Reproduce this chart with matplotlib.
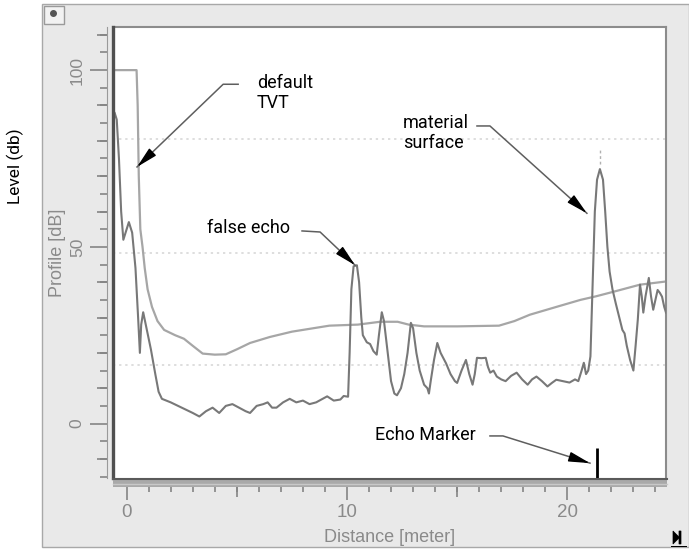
import matplotlib
matplotlib.use('Agg')
import matplotlib.pyplot as plt
import numpy as np
from matplotlib.patches import Rectangle, Polygon

# echo profile (distance in m, level in dB)
profile_x = [-0.62, -0.55, -0.45, -0.35, -0.25, -0.15, -0.05, 0.1, 0.25, 0.4, 0.52, 0.6, 0.66, 0.75,
             0.9, 1.1, 1.3, 1.45, 1.6, 2.0, 2.5, 3.0, 3.3, 3.6, 3.9, 4.2, 4.5, 4.8, 5.1, 5.4, 5.6,
             5.9, 6.2, 6.4, 6.6, 6.8, 7.1, 7.4, 7.7, 8.0, 8.3, 8.6, 8.9, 9.1, 9.4, 9.7, 9.85, 10.05,
             10.12, 10.2, 10.3, 10.45, 10.55, 10.65, 10.72, 10.9, 11.05, 11.2, 11.35, 11.45, 11.58,
             11.68, 11.85, 12.0, 12.15, 12.27, 12.45, 12.6, 12.75, 12.9, 13.0, 13.15, 13.3, 13.5,
             13.65, 13.72, 13.8, 13.95, 14.1, 14.25, 14.5, 14.7, 14.9, 15.0, 15.2, 15.4, 15.55, 15.7,
             15.8, 15.9, 16.1, 16.3, 16.4, 16.5, 16.65, 16.8, 17.0, 17.2, 17.45, 17.7, 17.95, 18.2,
             18.4, 18.6, 18.85, 19.1, 19.3, 19.5, 19.8, 20.1, 20.35, 20.5, 20.65, 20.75, 20.85, 20.95,
             21.05, 21.15, 21.25, 21.35, 21.48, 21.62, 21.72, 21.82, 21.92, 22.05, 22.2, 22.4, 22.5,
             22.6, 22.7, 22.85, 23.0, 23.1, 23.2, 23.3, 23.38, 23.45, 23.55, 23.7, 23.8, 23.9, 24.0,
             24.1, 24.2, 24.3, 24.4, 24.48]
profile_y = [87, 88, 86, 75, 60, 52, 54, 57, 54, 44, 30, 20, 28, 31.5,
             27, 21, 14, 9, 7, 6, 4.5, 3, 2, 3.5, 4.5, 3, 5, 5.5, 4.5, 3.5, 3,
             5, 5.5, 6, 4.5, 4.5, 6, 7, 6, 6.5, 5.5, 6, 7, 7.7, 6.5, 6.8, 7.8, 7.6,
             20, 38, 44.5, 44.8, 40, 30, 25, 23, 22.5, 20.5, 19.5, 25, 31.5,
             29, 20, 12, 8.5, 8, 10, 14, 20, 28.5, 27, 20, 15, 11,
             10, 8.5, 12, 18, 22.8, 20, 17, 14, 12, 11.5, 15, 18, 14, 11,
             14, 18.6, 18.5, 18.6, 16, 14.4, 15, 13.3, 12.5, 12, 13.5, 14.4, 12.5, 11,
             12.5, 13.3, 12, 10.5, 11.5, 12.4, 12, 11.6, 12.5, 12, 15, 17.2, 14, 15,
             19, 40, 60, 69, 72, 69, 60, 50, 43, 38, 34, 29, 26.5,
             25.5, 22, 18, 15, 22, 29.4, 39.3, 36, 31.4, 36, 41.2, 36, 32.2, 35,
             37.8, 37, 35.9, 33, 31.4]

# default TVT curve
tvt_x = [-0.62, 0.45, 0.5, 0.55, 0.62, 0.72, 0.82, 0.95, 1.15, 1.4, 1.7, 2.2, 2.6, 3.0, 3.45,
         4.0, 4.5, 5.0, 5.6, 6.5, 7.5, 8.5, 9.2, 10.5, 11.5, 12.3, 12.8, 13.5, 15.0, 16.9,
         17.6, 18.3, 19.5, 20.6, 21.3, 22.1, 23.3, 24.48]
tvt_y = [100, 100, 90, 70, 55, 50, 44, 38, 33, 29, 26.5, 25, 24, 22, 19.8,
         19.5, 19.6, 21, 22.8, 24.5, 26, 27, 27.7, 28, 28.8, 28.8, 28, 27.5, 27.5, 27.7,
         29, 30.8, 33, 35, 36, 37.3, 39.3, 40.2]

grid_levels = [80.5, 48.3, 16.6]
echo_x = 21.35
echo_top = -6.9
peak_x = 21.48

W, H = 689, 551
fig = plt.figure(figsize=(6.89, 5.51), dpi=100)
fig.patch.set_facecolor('white')

def px(x, y):
    return x / W, 1 - y / H

# grey window panel
fig.add_artist(Rectangle(px(42, 547), (W - 42) / W, 543 / H, transform=fig.transFigure,
                         facecolor='#e9e9e9', edgecolor='#a8a8a8', lw=1, zorder=0))
fig.add_artist(Rectangle(px(44, 24), 20 / W, 18 / H, transform=fig.transFigure,
                         facecolor='#f2f2f2', edgecolor='#9a9a9a', lw=1, zorder=1))
fig.add_artist(plt.Line2D([53 / W], [1 - 13 / H], marker='o', ms=4, color='#555555',
                          transform=fig.transFigure))
# bottom-right button glyph
bx, by = 673, 531
glyph = [(bx, by), (bx + 6, by + 6), (bx + 6, by), (bx + 8, by), (bx + 8, by + 13), (bx + 6, by + 13),
         (bx + 6, by + 7), (bx, by + 13)]
fig.add_artist(Polygon([px(a, b) for a, b in glyph], closed=True, transform=fig.transFigure,
                       facecolor='black', edgecolor='black', lw=0.5))
fig.add_artist(Rectangle(px(671, 547), 16 / W, 1.5 / H, transform=fig.transFigure,
                         facecolor='black', lw=0))

ax = fig.add_axes([113 / W, 73 / H, 553 / W, 451 / H])
ax.set_facecolor('white')
ax.set_xlim(-0.62, 24.48)
ax.set_ylim(-15.4, 112.2)

for lev in grid_levels:
    ax.axhline(lev, color='#d4d4d4', lw=1.1, ls=(0, (1.5, 2.5)), zorder=1)

ax.plot(tvt_x, tvt_y, color='#a6a6a6', lw=1.6, zorder=2)
ax.plot(profile_x, profile_y, color='#787878', lw=1.5, zorder=3)
ax.vlines(echo_x, ymin=-15.4, ymax=echo_top, color='black', lw=2, zorder=4)
ax.vlines(peak_x, ymin=73.5, ymax=77.5, color='#b0b0b0', lw=1, ls=(0, (2, 2)), zorder=2)

# frame
for s in ['top', 'right']:
    ax.spines[s].set_color('#8c8c8c')
    ax.spines[s].set_linewidth(1.5)
ax.spines['left'].set_position(('outward', 4.3))
ax.spines['left'].set_color('#9a9a9a')
ax.spines['bottom'].set_position(('outward', 6.5))
ax.spines['bottom'].set_visible(False)
ax.plot([0, 0], [0, 1], transform=ax.transAxes, color='#505050', lw=2.4, clip_on=False, zorder=6)

# grey bar under plot
fig.add_artist(Rectangle(px(113, 487), 554 / W, 9 / H, transform=fig.transFigure,
                         facecolor='#a9a9a9', edgecolor='none', zorder=5))
fig.add_artist(plt.Line2D([113 / W, 667 / W], [1 - 478.5 / H] * 2, color='#5a5a5a', lw=1.5,
                          transform=fig.transFigure, zorder=6))
fig.add_artist(plt.Line2D([113 / W, 667 / W], [1 - 484 / H] * 2, color='#c8c8c8', lw=1,
                          transform=fig.transFigure, zorder=6))

tick_col = '#858585'
lab_font = dict(family='Liberation Sans', size=13, color='#8a8a8a')

ax.set_xticks([0, 10, 20])
ax.set_xticks(np.arange(0, 25, 1), minor=True)
ax.tick_params(axis='x', which='major', length=9.4, width=1.2, color=tick_col, pad=3,
               labelsize=13.5, labelcolor='#8a8a8a')
ax.tick_params(axis='x', which='minor', length=3.6, width=1.2, color=tick_col)
ax.set_yticks([0, 50, 100])
ax.set_yticks(np.arange(-15, 112, 5), minor=True)
ax.tick_params(axis='y', which='major', length=12, width=1.2, color=tick_col, pad=4,
               labelsize=12.5, labelcolor='#8a8a8a', labelrotation=90)
ax.tick_params(axis='y', which='minor', length=5, width=1.2, color=tick_col)
for t in ax.get_xticklabels() + ax.get_yticklabels():
    t.set_family('Liberation Sans')
for t in ax.get_yticklabels():
    t.set_va('center')

secx = ax.secondary_xaxis(-9 / 451)
secx.set_xticks([5, 15])
secx.tick_params(length=7.2, width=1.2, color=tick_col, labelbottom=False)
secx.spines['bottom'].set_visible(False)
secy = ax.secondary_yaxis(-6 / 553)
secy.set_yticks([-10, 10, 20, 30, 40, 60, 70, 80, 90, 110])
secy.tick_params(length=7.5, width=1.2, color=tick_col, labelleft=False)
secy.spines['left'].set_visible(False)

ax.set_xlabel('Distance [meter]', fontdict=lab_font)
ax.xaxis.set_label_coords(0.5, -60 / 451)
ax.xaxis.label.set_va('center')
ax.set_ylabel('Profile [dB]', fontdict=lab_font)
ax.yaxis.set_label_coords(-55 / 553, 0.5)
ax.yaxis.label.set_va('center')

fig.text(15 / W, 1 - 166 / H, 'Level (db)', rotation=90, ha='center', va='center',
         family='Roboto', fontsize=12.5, color='black')

# callouts: label, text anchor, stub start, knee, arrow tip
callouts = [
    ('default\nTVT', (5.91, 93.4), (5.06, 96.0), (4.38, 96.0), (0.47, 72.6)),
    ('false echo', (3.65, 55.3), (7.96, 54.5), (8.78, 54.2), (10.37, 44.8)),
    ('material\nsurface', (12.55, 82.3), (15.9, 84.2), (16.49, 84.2), (20.89, 59.5)),
    ('Echo Marker', (11.27, -3.25), (16.49, -3.5), (17.08, -3.5), (21.03, -11.2)),
]
fig.canvas.draw()
for label, tpos, start, knee, tip in callouts:
    ax.text(tpos[0], tpos[1], label, ha='left', va='center', family='Roboto', fontsize=13,
            linespacing=1.15, color='black', zorder=7)
    ax.plot([start[0], knee[0], tip[0]], [start[1], knee[1], tip[1]], color='#5e5e5e',
            lw=1.1, zorder=7)
    p_tip = ax.transData.transform(tip)
    p_knee = ax.transData.transform(knee)
    f = 20 / np.hypot(*(p_knee - p_tip))
    back = ax.transData.inverted().transform(p_tip + f * (p_knee - p_tip))
    ax.annotate('', xy=tip, xytext=back,
                arrowprops=dict(arrowstyle='-|>,head_length=1.3,head_width=0.3', color='black',
                                lw=1, shrinkA=0, shrinkB=0, mutation_scale=10), zorder=8)

fig.savefig('out.png', dpi=100)
